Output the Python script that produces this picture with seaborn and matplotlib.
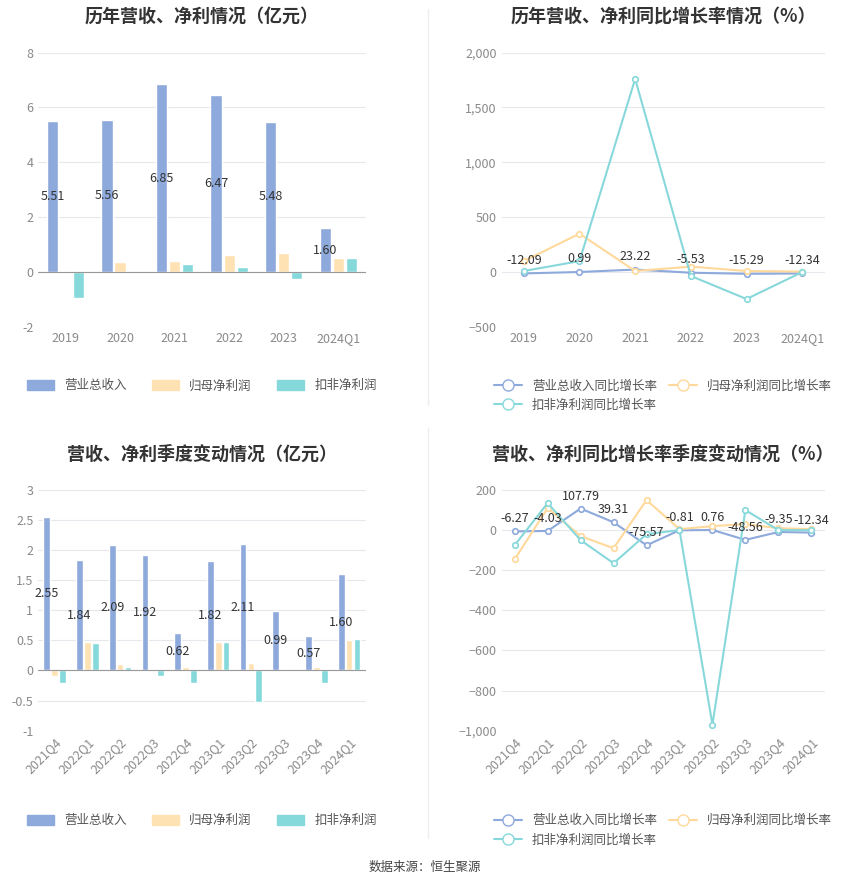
import matplotlib
matplotlib.use("Agg")
import matplotlib.pyplot as plt
import seaborn as sns
import pandas as pd
import numpy as np
from matplotlib.lines import Line2D

sns.set_theme(style="white")
plt.rcParams['font.family'] = ['Noto Sans CJK SC', 'DejaVu Sans']
plt.rcParams['axes.unicode_minus'] = False

years = ["2019", "2020", "2021", "2022", "2023", "2024Q1"]
rev_y = [5.51, 5.56, 6.85, 6.47, 5.48, 1.60]
net_y = [0.05, 0.38, 0.42, 0.62, 0.70, 0.50]
ded_y = [-0.95, 0.0, 0.28, 0.18, -0.25, 0.50]
rev_g_y = [-12.09, 0.99, 23.22, -5.53, -15.29, -12.34]
net_g_y = [100, 350, 10, 50, 10, 5]
ded_g_y = [10, 100, 1760, -35, -245, 0]

quarters = ["2021Q4", "2022Q1", "2022Q2", "2022Q3", "2022Q4", "2023Q1", "2023Q2", "2023Q3", "2023Q4", "2024Q1"]
rev_q = [2.55, 1.84, 2.09, 1.92, 0.62, 1.82, 2.11, 0.99, 0.57, 1.60]
net_q = [-0.10, 0.47, 0.10, 0.02, 0.05, 0.48, 0.12, 0.02, 0.05, 0.50]
ded_q = [-0.20, 0.45, 0.06, -0.10, -0.20, 0.48, -0.53, 0.01, -0.20, 0.52]
rev_g_q = [-6.27, -4.03, 107.79, 39.31, -75.57, -0.81, 0.76, -48.56, -9.35, -12.34]
net_g_q = [-145, 110, -30, -90, 150, 5, 20, 30, 10, 5]
ded_g_q = [-75, 135, -50, -165, -20, 0, -970, 100, 0, 0]

bar_names = ["营业总收入", "归母净利润", "扣非净利润"]
line_names = ["营业总收入同比增长率", "归母净利润同比增长率", "扣非净利润同比增长率"]
bar_cols = ["#8EA9DB", "#FFE2B3", "#86D9DB"]
line_cols = ["#8EA9DB", "#FFD99B", "#88D8DB"]
tc = "#8A8A8A"

fig = plt.figure(figsize=(8.5, 8.91), dpi=100)
axes = [fig.add_axes([0.045, 0.633, 0.385, 0.308]),
        fig.add_axes([0.59, 0.633, 0.38, 0.308]),
        fig.add_axes([0.045, 0.18, 0.385, 0.27]),
        fig.add_axes([0.59, 0.18, 0.38, 0.27])]
titles = ["历年营收、净利情况（亿元）", "历年营收、净利同比增长率情况（%）",
          "营收、净利季度变动情况（亿元）", "营收、净利同比增长率季度变动情况（%）"]

def style(ax):
    for s in ax.spines.values():
        s.set_visible(False)
    ax.grid(axis='y', color='#E6E8EE', lw=0.8)
    ax.set_axisbelow(True)
    ax.tick_params(colors=tc, labelsize=9, length=0)
    ax.set_xlabel(""); ax.set_ylabel("")

def bars(ax, cats, r, n, d, ylim, yt, rot):
    df = pd.DataFrame({"cat": cats * 3, "v": r + n + d,
                       "s": sum([[b] * len(cats) for b in bar_names], [])})
    sns.barplot(data=df, x="cat", y="v", hue="s", palette=bar_cols, ax=ax,
                width=0.72, gap=0.15, legend=False, saturation=1)
    style(ax)
    ax.axhline(0, color='#999999', lw=0.8)
    ax.set_ylim(*ylim); ax.set_yticks(yt)
    ax.set_yticklabels([f"{t:g}" for t in yt])
    for i, v in enumerate(r):
        ax.text(i - 0.24, v / 2, f"{v:.2f}", ha='center', va='center', fontsize=9, color='#333333')
    if rot:
        ax.set_xticks(range(len(cats)))
        ax.set_xticklabels(cats, rotation=45, ha='right', rotation_mode='anchor')
    handles = [plt.Rectangle((0, 0), 1, 1, color=c) for c in bar_cols]
    ax.legend(handles, bar_names, loc='upper center', bbox_to_anchor=(0.5, -0.15 if not rot else -0.3),
              ncol=3, frameon=False, fontsize=9, labelcolor='#555555', handlelength=2.2, handleheight=0.9)

def lines(ax, cats, a, b, c, ylim, yt, rot, fmt):
    df = pd.DataFrame({"cat": cats * 3, "v": a + b + c,
                       "s": sum([[x] * len(cats) for x in line_names], [])})
    sns.lineplot(data=df, x="cat", y="v", hue="s", palette=line_cols, ax=ax, sort=False,
                 marker='o', markersize=4, markerfacecolor='white', markeredgewidth=1.2,
                 lw=1.5, legend=False)
    for ln, col in zip(ax.lines, line_cols):
        ln.set_markeredgecolor(col)
    style(ax)
    ax.set_ylim(*ylim); ax.set_yticks(yt)
    ax.set_yticklabels([fmt(t) for t in yt])
    ax.set_xlim(-0.4, len(cats) - 0.6)
    for i, v in enumerate(a):
        ax.text(i, v + (ylim[1] - ylim[0]) * 0.025, f"{v:.2f}", ha='center', va='bottom', fontsize=9, color='#333333')
    if rot:
        ax.set_xticks(range(len(cats)))
        ax.set_xticklabels(cats, rotation=45, ha='right', rotation_mode='anchor')
    h = [Line2D([], [], color=col, marker='o', markersize=8, markerfacecolor='white', lw=1.5) for col in line_cols]
    order = [0, 2, 1]
    ax.legend([h[i] for i in order], [line_names[i] for i in order], loc='upper center',
              bbox_to_anchor=(0.5, -0.15 if not rot else -0.3),
              ncol=2, frameon=False, fontsize=9, labelcolor='#555555', columnspacing=1.0, handlelength=2.2)

bars(axes[0], years, rev_y, net_y, ded_y, (-2, 8), [-2, 0, 2, 4, 6, 8], False)
lines(axes[1], years, rev_g_y, net_g_y, ded_g_y, (-500, 2000), [-500, 0, 500, 1000, 1500, 2000], False,
      lambda t: f"{t:,.0f}".replace("-", "−"))
bars(axes[2], quarters, rev_q, net_q, ded_q, (-1, 3), [-1, -0.5, 0, 0.5, 1, 1.5, 2, 2.5, 3], True)
lines(axes[3], quarters, rev_g_q, net_g_q, ded_g_q, (-1000, 200), [-1000, -800, -600, -400, -200, 0, 200], True,
      lambda t: f"{t:,.0f}".replace("-", "−"))

for ax, t in zip(axes, titles):
    ax.set_title(t, fontsize=13, fontweight='bold', color='#333333', pad=22)

fig.add_artist(plt.Line2D([0.503, 0.503], [0.545, 0.99], color='#EEEEEE', lw=1))
fig.add_artist(plt.Line2D([0.503, 0.503], [0.06, 0.52], color='#EEEEEE', lw=1))
fig.text(0.5, 0.022, "数据来源：恒生聚源", ha='center', fontsize=9, color='#444444')
fig.savefig("out.png", dpi=100, facecolor='white')
